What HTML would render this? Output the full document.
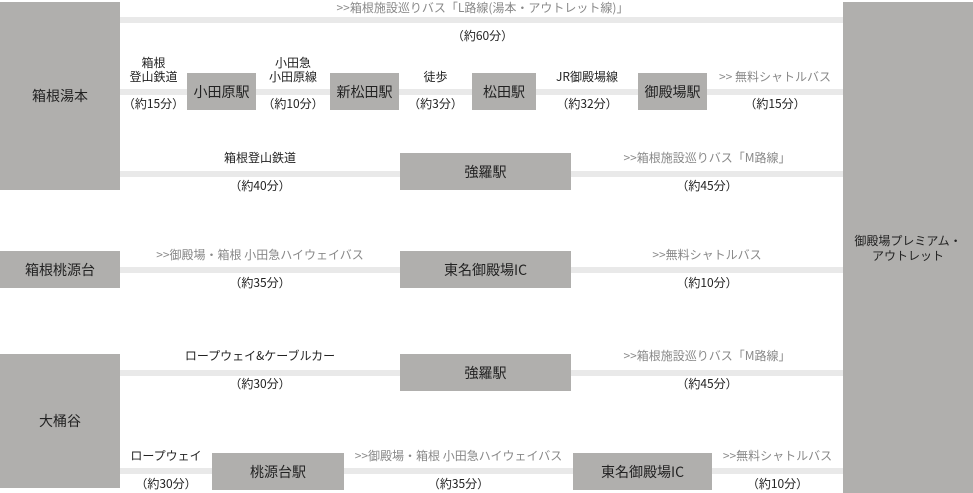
<!DOCTYPE html>
<html><head><meta charset="utf-8"><style>
body{margin:0;width:973px;height:493px;background:#fff;position:relative;overflow:hidden;font-family:"Noto Sans CJK JP","Liberation Sans",sans-serif;font-size:12px;color:#222}
.b{position:absolute;background:#b0afad;display:flex;align-items:center;justify-content:center;text-align:center;font-size:14px;color:#222}
.l{position:absolute;background:#e9e9e9;height:6px}
.t{position:absolute;text-align:center;white-space:nowrap;line-height:14px}
.g{color:#888}
</style></head><body>
<div class="l" style="left:120px;top:17px;width:725px"></div>
<div class="l" style="left:120px;top:89px;width:725px"></div>
<div class="l" style="left:120px;top:171px;width:725px"></div>
<div class="l" style="left:120px;top:267px;width:725px"></div>
<div class="l" style="left:120px;top:370px;width:725px"></div>
<div class="l" style="left:120px;top:468px;width:725px"></div>

<div class="b" style="left:0;top:2px;width:120px;height:188px">箱根湯本</div>
<div class="b" style="left:843px;top:2px;width:130px;height:491px;font-size:12px;line-height:15px">御殿場プレミアム・<br>アウトレット</div>
<div class="b" style="left:187px;top:73px;width:69px;height:37px">小田原駅</div>
<div class="b" style="left:330px;top:73px;width:69px;height:37px">新松田駅</div>
<div class="b" style="left:472px;top:73px;width:64px;height:37px">松田駅</div>
<div class="b" style="left:638px;top:73px;width:69px;height:37px">御殿場駅</div>
<div class="b" style="left:400px;top:153px;width:171px;height:37px">強羅駅</div>
<div class="b" style="left:0;top:251px;width:120px;height:37px">箱根桃源台</div>
<div class="b" style="left:400px;top:251px;width:171px;height:37px">東名御殿場IC</div>
<div class="b" style="left:0;top:354px;width:120px;height:134px">大桶谷</div>
<div class="b" style="left:400px;top:354px;width:171px;height:37px">強羅駅</div>
<div class="b" style="left:212px;top:453px;width:132px;height:37px">桃源台駅</div>
<div class="b" style="left:573px;top:453px;width:139px;height:37px">東名御殿場IC</div>

<div class="t g" style="left:120px;width:725px;top:1px">&gt;&gt;箱根施設巡りバス「L路線(湯本・アウトレット線)」</div>
<div class="t" style="left:120px;width:725px;top:29px">（約60分）</div>

<div class="t" style="left:120px;width:67px;top:56px">箱根<br>登山鉄道</div>
<div class="t" style="left:120px;width:67px;top:97px">（約15分）</div>
<div class="t" style="left:256px;width:74px;top:56px">小田急<br>小田原線</div>
<div class="t" style="left:256px;width:74px;top:97px">（約10分）</div>
<div class="t" style="left:399px;width:73px;top:70px">徒歩</div>
<div class="t" style="left:399px;width:73px;top:97px">（約3分）</div>
<div class="t" style="left:536px;width:102px;top:70px">JR御殿場線</div>
<div class="t" style="left:536px;width:102px;top:97px">（約32分）</div>
<div class="t g" style="left:707px;width:136px;top:70px">&gt;&gt; 無料シャトルバス</div>
<div class="t" style="left:707px;width:136px;top:97px">（約15分）</div>

<div class="t" style="left:120px;width:280px;top:151px">箱根登山鉄道</div>
<div class="t" style="left:120px;width:280px;top:179px">（約40分）</div>
<div class="t g" style="left:571px;width:272px;top:151px">&gt;&gt;箱根施設巡りバス「M路線」</div>
<div class="t" style="left:571px;width:272px;top:179px">（約45分）</div>

<div class="t g" style="left:120px;width:280px;top:248px">&gt;&gt;御殿場・箱根 小田急ハイウェイバス</div>
<div class="t" style="left:120px;width:280px;top:276px">（約35分）</div>
<div class="t g" style="left:571px;width:272px;top:248px">&gt;&gt;無料シャトルバス</div>
<div class="t" style="left:571px;width:272px;top:276px">（約10分）</div>

<div class="t" style="left:120px;width:280px;top:349px">ロープウェイ&amp;ケーブルカー</div>
<div class="t" style="left:120px;width:280px;top:377px">（約30分）</div>
<div class="t g" style="left:571px;width:272px;top:349px">&gt;&gt;箱根施設巡りバス「M路線」</div>
<div class="t" style="left:571px;width:272px;top:377px">（約45分）</div>

<div class="t" style="left:120px;width:92px;top:449px">ロープウェイ</div>
<div class="t" style="left:120px;width:92px;top:477px">（約30分）</div>
<div class="t g" style="left:344px;width:229px;top:449px">&gt;&gt;御殿場・箱根 小田急ハイウェイバス</div>
<div class="t" style="left:344px;width:229px;top:477px">（約35分）</div>
<div class="t g" style="left:712px;width:131px;top:449px">&gt;&gt;無料シャトルバス</div>
<div class="t" style="left:712px;width:131px;top:477px">（約10分）</div>
</body></html>
